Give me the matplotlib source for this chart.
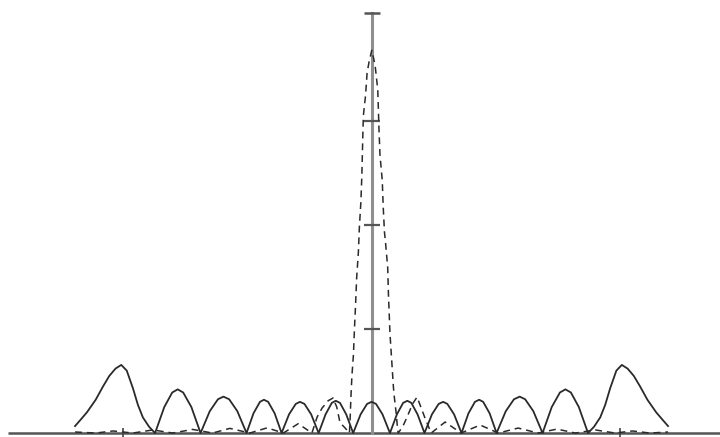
import matplotlib
matplotlib.use("Agg")
import matplotlib.pyplot as plt

# solid curve
solid_x = [-1.193, -1.17, -1.145, -1.11, -1.08, -1.055, -1.03, -1.007, -0.985, -0.96, -0.94, -0.92, -0.895, -0.871,
           -0.834, -0.802, -0.780, -0.758, -0.725, -0.688,
           -0.651, -0.618, -0.596, -0.573, -0.540, -0.503,
           -0.475, -0.449, -0.433, -0.416, -0.390, -0.362,
           -0.332, -0.305, -0.288, -0.270, -0.243, -0.213,
           -0.185, -0.160, -0.144, -0.127, -0.102, -0.074,
           -0.044, -0.018, 0.0, 0.018, 0.044, 0.074,
           0.102, 0.127, 0.144, 0.160, 0.185, 0.213,
           0.243, 0.270, 0.288, 0.305, 0.332, 0.362,
           0.390, 0.416, 0.433, 0.449, 0.475, 0.503,
           0.540, 0.573, 0.596, 0.618, 0.651, 0.688,
           0.725, 0.758, 0.780, 0.802, 0.834, 0.871,
           0.895, 0.92, 0.94, 0.96, 0.985, 1.007, 1.03, 1.055, 1.08, 1.11, 1.145, 1.17, 1.193]
solid_y = [0.067, 0.13, 0.20, 0.32, 0.45, 0.55, 0.62, 0.655, 0.60, 0.43, 0.27, 0.15, 0.06, 0.0,
           0.25, 0.39, 0.42, 0.39, 0.25, 0.0,
           0.21, 0.325, 0.35, 0.325, 0.21, 0.0,
           0.19, 0.30, 0.32, 0.30, 0.19, 0.0,
           0.18, 0.28, 0.30, 0.28, 0.18, 0.0,
           0.18, 0.29, 0.31, 0.29, 0.18, 0.0,
           0.18, 0.28, 0.30, 0.28, 0.18, 0.0,
           0.18, 0.29, 0.31, 0.29, 0.18, 0.0,
           0.18, 0.28, 0.30, 0.28, 0.18, 0.0,
           0.19, 0.30, 0.32, 0.30, 0.19, 0.0,
           0.21, 0.325, 0.35, 0.325, 0.21, 0.0,
           0.25, 0.39, 0.42, 0.39, 0.25, 0.0,
           0.06, 0.15, 0.27, 0.43, 0.60, 0.655, 0.62, 0.55, 0.45, 0.32, 0.20, 0.13, 0.067]

# dashed curve
dash_x = [-1.193, -1.11, -1.04, -0.96, -0.88, -0.80, -0.72, -0.64, -0.57, -0.49, -0.42, -0.355, -0.295, -0.24,
          -0.219, -0.199, -0.175, -0.155, -0.140, -0.127, -0.107, -0.089,
          -0.086, -0.083, -0.079, -0.073, -0.069, -0.064, -0.060, -0.053, -0.049, -0.043, -0.039, -0.036,
          -0.033, -0.024, -0.018, -0.010, 0.001,
          0.014, 0.025, 0.030, 0.034, 0.043, 0.047, 0.052, 0.057, 0.065, 0.068, 0.074, 0.081, 0.088,
          0.092, 0.099, 0.104, 0.107,
          0.125, 0.143, 0.165, 0.183, 0.203, 0.215, 0.24,
          0.296, 0.36, 0.437, 0.51, 0.590, 0.67, 0.746, 0.82, 0.90, 0.98, 1.05, 1.12, 1.193]
dash_y = [0.01, 0.0, 0.02, 0.0, 0.03, 0.0, 0.035, 0.0, 0.045, 0.0, 0.05, 0.0, 0.09, 0.0,
          0.154, 0.24, 0.31, 0.337, 0.25, 0.10, 0.05, 0.0,
          0.15, 0.35, 0.55, 0.75, 0.99, 1.25, 1.49, 1.74, 1.98, 2.22, 2.48, 2.78,
          3.05, 3.25, 3.46, 3.57, 3.68,
          3.54, 3.30, 2.91, 2.67, 2.43, 2.17, 1.93, 1.81, 1.59, 1.33, 0.96, 0.70, 0.44,
          0.337, 0.192, 0.058, 0.0,
          0.06, 0.154, 0.28, 0.346, 0.221, 0.144, 0.0,
          0.106, 0.0, 0.077, 0.0, 0.048, 0.0, 0.038, 0.0, 0.03, 0.0, 0.02, 0.0, 0.01]

yticks = [1, 2, 3]
xticks = [-1, 1]
y_top = 4.04

fig = plt.figure(figsize=(7.2, 4.37), dpi=100)
ax = fig.add_axes([0, 0, 1, 1])
ax.set_xlim(-1.495, 1.402)
ax.set_ylim(-0.038, 4.163)
ax.axis("off")

# axes drawn by hand
ax.plot([-1.463, 1.402], [0, 0], color="#555555", lw=1.8, solid_capstyle="butt", zorder=1)
ax.plot([0, 0], [0, y_top], color="#8f8f8f", lw=2.2, zorder=1)
ax.plot([0], [y_top], marker="_", ms=11, mew=1.8, color="#555555", zorder=2)
ax.plot([0] * len(yticks), yticks, ls="none", marker="_", ms=11, mew=1.6, color="#555555", zorder=2)
ax.plot(xticks, [0] * len(xticks), ls="none", marker="|", ms=7, mew=1.2, color="#444444", zorder=2)

ax.plot(solid_x, solid_y, color="#2a2a2a", lw=1.3, zorder=3)
ax.plot(dash_x, dash_y, color="#2a2a2a", lw=1.1, dashes=(4.5, 3.2), zorder=3)

fig.savefig("out.png", dpi=100)
